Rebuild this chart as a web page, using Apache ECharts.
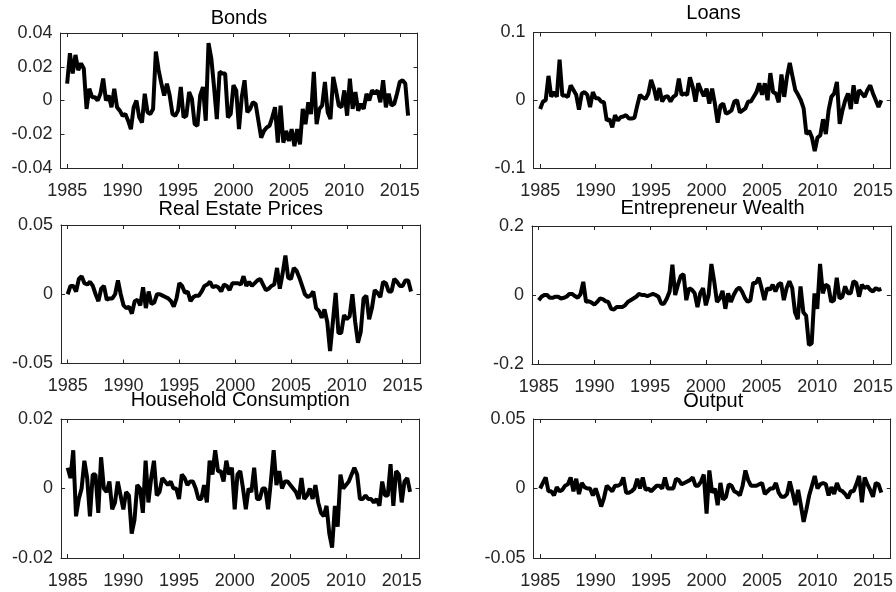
<!DOCTYPE html>
<html>
<head>
<meta charset="utf-8">
<script src="https://cdn.jsdelivr.net/npm/echarts@6/dist/echarts.min.js"></script>
<style>
  html, body { margin: 0; padding: 0; background: #fff; }
  #chart { width: 896px; height: 592px; }
</style>
</head>
<body>
<div id="chart"></div>
<script>
// quarterly series, 1985Q1 .. 2015Q4 (one row per year)
const startYear = 1985;
const yearTicks = [1985, 1990, 1995, 2000, 2005, 2010, 2015];

const bonds = [
  0.010, 0.028, 0.016, 0.027,
  0.018, 0.022, 0.019, -0.005,
  0.007, 0.002, 0.002, 0.000,
  0.004, 0.013, 0.000, 0.003,
  -0.004, 0.007, -0.004, -0.006,
  -0.009, -0.008, -0.012, -0.017,
  -0.004, 0.000, -0.010, -0.013,
  0.004, -0.007, -0.008, -0.005,
  0.029, 0.018, 0.010, 0.003,
  0.010, 0.003, -0.008, -0.009,
  -0.006, 0.008, -0.010, -0.009,
  0.005, 0.001, -0.014, -0.015,
  0.003, 0.008, -0.012, 0.034,
  0.025, 0.008, -0.011, 0.017,
  0.016, 0.016, -0.010, -0.008,
  0.009, 0.006, -0.017, 0.002,
  0.012, -0.007, -0.005, -0.001,
  -0.002, -0.012, -0.022, -0.018,
  -0.016, -0.015, -0.010, -0.004,
  -0.025, -0.003, -0.025, -0.018,
  -0.024, -0.017, -0.027, -0.017,
  -0.026, -0.005, -0.014, -0.001,
  -0.008, 0.017, -0.014, -0.005,
  -0.003, 0.011, -0.007, -0.011,
  0.014, 0.006, -0.003, -0.004,
  0.006, -0.009, 0.013, -0.005,
  0.005, -0.006, -0.002, -0.005,
  0.004, 0.000, 0.006, 0.004,
  0.006, -0.001, 0.012, -0.004,
  0.004, -0.003, -0.002, 0.004,
  0.011, 0.012, 0.010, -0.009
];

const loans = [
  -0.013, -0.002, 0.000, 0.036,
  0.005, 0.012, 0.005, 0.060,
  0.007, 0.007, 0.005, 0.022,
  0.015, 0.008, -0.014, 0.010,
  0.012, 0.008, -0.010, 0.012,
  0.003, 0.003, -0.002, -0.003,
  -0.030, -0.028, -0.040, -0.022,
  -0.030, -0.025, -0.024, -0.022,
  -0.027, -0.027, -0.026, -0.008,
  0.008, 0.004, 0.002, 0.010,
  0.030, 0.018, 0.000, 0.018,
  -0.002, 0.005, 0.006, -0.002,
  0.005, 0.008, 0.032, 0.008,
  0.010, 0.008, 0.034, 0.020,
  -0.002, 0.025, 0.015, 0.006,
  0.017, -0.005, 0.017, -0.005,
  -0.033, -0.008, -0.005, -0.020,
  -0.018, -0.015, -0.002, 0.000,
  -0.018, -0.015, -0.012, -0.002,
  -0.002, 0.005, 0.012, 0.025,
  0.008, 0.025, 0.000, 0.040,
  0.012, 0.010, -0.003, 0.038,
  0.005, 0.035, 0.055, 0.035,
  0.015, 0.008, 0.000, -0.012,
  -0.050, -0.045, -0.055, -0.075,
  -0.055, -0.052, -0.028, -0.050,
  -0.015, 0.005, 0.010, 0.027,
  -0.035, -0.015, 0.000, 0.010,
  -0.013, 0.022, -0.005, 0.015,
  0.010, 0.005, 0.015, 0.022,
  0.010, 0.000, -0.010, 0.000
];

const realEstate = [
  0.000, 0.006, 0.006, 0.002,
  0.011, 0.013, 0.008, 0.007,
  0.009, 0.006, 0.000, -0.005,
  0.004, 0.006, -0.004, -0.003,
  -0.003, 0.000, 0.010, 0.000,
  -0.008, -0.010, -0.009, -0.014,
  -0.005, -0.004, -0.008, 0.005,
  -0.010, 0.002, -0.007, -0.006,
  0.000, 0.000, -0.001, -0.002,
  -0.003, -0.005, -0.009, -0.003,
  0.008, 0.006, 0.001, 0.002,
  -0.005, -0.002, -0.001, -0.001,
  0.002, 0.006, 0.007, 0.009,
  0.005, 0.006, 0.005, 0.002,
  0.007, 0.006, 0.003, 0.008,
  0.008, 0.008, 0.007, 0.013,
  0.006, 0.009, 0.006, 0.008,
  0.010, 0.011, 0.007, 0.003,
  0.004, 0.006, 0.007, 0.019,
  0.004, 0.015, 0.028, 0.012,
  0.011, 0.019, 0.017, 0.012,
  0.006, 0.000, -0.002, -0.001,
  0.002, -0.010, -0.012, -0.017,
  -0.011, -0.020, -0.041, -0.020,
  0.001, -0.028, -0.028, -0.015,
  -0.018, -0.016, 0.000, -0.020,
  -0.035, -0.027, -0.003, -0.001,
  -0.018, -0.010, 0.003, 0.001,
  -0.002, 0.009, 0.008, 0.002,
  0.002, 0.011, 0.009, 0.006,
  0.006, 0.010, 0.010, 0.002
];

const entWealth = [
  -0.015, -0.005, 0.000, 0.000,
  -0.008, -0.008, -0.005, -0.005,
  -0.010, -0.008, -0.005, 0.003,
  0.003, -0.003, -0.008, 0.002,
  0.038, -0.020, -0.018, -0.022,
  -0.028, -0.020, -0.010, -0.012,
  -0.018, -0.020, -0.040, -0.042,
  -0.035, -0.035, -0.035, -0.030,
  -0.020, -0.015, -0.010, -0.005,
  0.003, 0.000, 0.000, -0.003,
  0.000, 0.003, 0.000, -0.005,
  -0.025, -0.025, -0.010, 0.010,
  0.088, 0.000, 0.030, 0.055,
  0.060, -0.015, 0.020, 0.015,
  0.005, -0.035, 0.005, 0.020,
  -0.030, 0.000, 0.090, 0.040,
  -0.020, -0.010, 0.012, -0.040,
  0.005, -0.020, 0.000, 0.015,
  0.022, 0.010, -0.008, -0.020,
  -0.015, 0.035, 0.035, 0.050,
  0.020, -0.015, 0.020, 0.015,
  0.030, 0.010, 0.030, 0.035,
  -0.015, 0.020, 0.040, 0.020,
  -0.050, -0.070, 0.025, -0.050,
  -0.060, -0.145, -0.140, 0.005,
  -0.040, 0.090, 0.005, 0.030,
  0.025, -0.020, -0.015, 0.050,
  -0.010, -0.005, 0.025, 0.005,
  0.005, 0.040, 0.035, -0.005,
  0.030, 0.020, 0.025, 0.015,
  0.010, 0.020, 0.015, 0.018
];

const consumption = [
  0.006, 0.003, 0.011, -0.008,
  -0.003, 0.000, 0.008, 0.003,
  -0.008, 0.004, 0.004, -0.007,
  0.009, 0.000, -0.001, 0.002,
  -0.006, -0.004, 0.002, -0.002,
  -0.006, -0.001, -0.002, -0.013,
  -0.009, 0.001, 0.000, -0.007,
  0.008, -0.004, 0.003, 0.008,
  -0.002, -0.001, 0.003, 0.002,
  0.001, 0.002, 0.000, 0.000,
  -0.003, 0.004, 0.003, 0.001,
  0.002, 0.002, 0.000, -0.003,
  -0.003, 0.001, -0.004, 0.008,
  0.004, 0.011, 0.005, 0.005,
  0.002, 0.008, 0.004, 0.006,
  -0.006, 0.004, 0.005, 0.000,
  -0.006, 0.000, -0.001, 0.006,
  -0.003, -0.003, 0.000, 0.000,
  -0.006, 0.002, 0.011, 0.001,
  0.005, 0.000, 0.002, 0.002,
  0.001, 0.000, -0.001, -0.003,
  0.003, -0.003, -0.002, 0.000,
  -0.003, 0.001, -0.004, -0.007,
  -0.008, -0.005, -0.013, -0.017,
  -0.005, -0.011, 0.004, 0.000,
  0.001, 0.002, 0.004, 0.006,
  0.004, -0.003, -0.003, -0.002,
  -0.003, -0.003, -0.004, -0.003,
  -0.005, 0.002, -0.002, -0.002,
  0.007, -0.005, 0.005, 0.004,
  -0.004, 0.002, 0.003, -0.001
];

const output = [
  0.000, 0.004, 0.008, -0.002,
  -0.002, -0.005, 0.001, -0.002,
  -0.001, 0.002, 0.003, 0.008,
  -0.002, 0.007, -0.004, 0.004,
  0.001, 0.000, 0.000, -0.005,
  0.000, -0.006, -0.013, -0.007,
  0.002, 0.000, -0.002, 0.002,
  0.002, 0.003, 0.008, -0.003,
  -0.003, -0.002, 0.000, 0.007,
  0.000, 0.008, -0.001, 0.000,
  -0.002, 0.000, 0.002, 0.002,
  0.000, 0.008, 0.000, 0.000,
  0.000, 0.007, 0.006, 0.003,
  0.004, 0.005, 0.006, 0.008,
  0.002, 0.002, 0.005, 0.010,
  -0.018, 0.013, -0.003, 0.000,
  -0.012, 0.004, -0.008, -0.006,
  0.003, 0.002, -0.002, -0.003,
  -0.005, 0.002, 0.013, 0.006,
  0.002, 0.002, 0.002, 0.003,
  0.004, -0.004, -0.002, 0.000,
  0.000, 0.004, -0.003, -0.006,
  -0.006, -0.004, 0.005, -0.003,
  -0.012, -0.001, -0.012, -0.024,
  -0.015, -0.005, 0.002, 0.009,
  0.000, 0.003, 0.004, 0.003,
  -0.005, 0.001, -0.004, 0.004,
  -0.001, -0.002, -0.004, -0.007,
  -0.002, -0.002, 0.003, 0.009,
  -0.010, 0.008, 0.003, -0.001,
  -0.006, 0.004, 0.003, -0.003
];

const FONT = '"Liberation Sans", Arial, Helvetica, sans-serif';
const AXIS_COLOR = '#262626';
const X_MIN = 1984.4;
const X_MAX = 2016.6;

// box = [left, top, width, height] of each plot area
const panels = [
  { title: 'Bonds', data: bonds, yMin: -0.04, yMax: 0.04, step: 0.02, box: [60.5, 33, 357, 135], titleY: 18 },
  { title: 'Loans', data: loans, yMin: -0.1, yMax: 0.1, step: 0.1, box: [533.5, 32.5, 360, 135.5], titleY: 13.5 },
  { title: 'Real Estate Prices', data: realEstate, yMin: -0.05, yMax: 0.05, step: 0.05, box: [61, 225, 359.5, 138.5], titleY: 209 },
  { title: 'Entrepreneur Wealth', data: entWealth, yMin: -0.2, yMax: 0.2, step: 0.2, box: [532, 226, 361, 138], titleY: 208.5 },
  { title: 'Household Consumption', data: consumption, yMin: -0.02, yMax: 0.02, step: 0.02, box: [61, 419, 358.5, 139], titleY: 400 },
  { title: 'Output', data: output, yMin: -0.05, yMax: 0.05, step: 0.05, box: [533.5, 419, 359.5, 139], titleY: 401.5 }
];

function fmtY (v) {
  return String(parseFloat(v.toFixed(4)));
}

let grids = [];
let xAxes = [];
let yAxes = [];
let series = [];
let graphics = [];

panels.forEach(function (p, i) {
  grids.push({
    left: p.box[0], top: p.box[1], width: p.box[2], height: p.box[3],
    containLabel: false, show: false
  });
  ['bottom', 'top'].forEach(function (pos) {
    xAxes.push({
      gridIndex: i,
      type: 'value',
      position: pos,
      min: X_MIN,
      max: X_MAX,
      axisLine: { show: true, onZero: false, lineStyle: { color: AXIS_COLOR, width: 1 } },
      axisTick: { show: true, inside: true, length: 4, customValues: yearTicks, lineStyle: { color: AXIS_COLOR } },
      axisLabel: {
        show: pos === 'bottom',
        customValues: yearTicks,
        formatter: function (v) { return String(v); },
        margin: 14,
        fontSize: 18,
        fontFamily: FONT,
        color: AXIS_COLOR
      },
      splitLine: { show: false }
    });
  });
  ['left', 'right'].forEach(function (pos) {
    yAxes.push({
      gridIndex: i,
      type: 'value',
      position: pos,
      min: p.yMin,
      max: p.yMax,
      interval: p.step,
      axisLine: { show: true, onZero: false, lineStyle: { color: AXIS_COLOR, width: 1 } },
      axisTick: { show: true, inside: true, length: 4, lineStyle: { color: AXIS_COLOR } },
      axisLabel: {
        show: pos === 'left',
        formatter: fmtY,
        margin: 8,
        fontSize: 18,
        fontFamily: FONT,
        color: AXIS_COLOR
      },
      splitLine: { show: false }
    });
  });
  series.push({
    type: 'line',
    xAxisIndex: 2 * i,
    yAxisIndex: 2 * i,
    data: p.data.map(function (v, k) { return [startYear + k / 4, v]; }),
    showSymbol: false,
    symbol: 'none',
    lineStyle: { color: '#000', width: 4 },
    silent: true
  });
  graphics.push({
    type: 'text',
    x: p.box[0] + p.box[2] / 2,
    y: p.titleY,
    style: {
      text: p.title,
      fill: '#000',
      font: '20px ' + FONT,
      textAlign: 'center',
      textVerticalAlign: 'middle'
    }
  });
});

let chart = echarts.init(document.getElementById('chart'));
chart.setOption({
  backgroundColor: '#fff',
  animation: false,
  grid: grids,
  xAxis: xAxes,
  yAxis: yAxes,
  series: series,
  graphic: graphics
});
</script>
</body>
</html>
